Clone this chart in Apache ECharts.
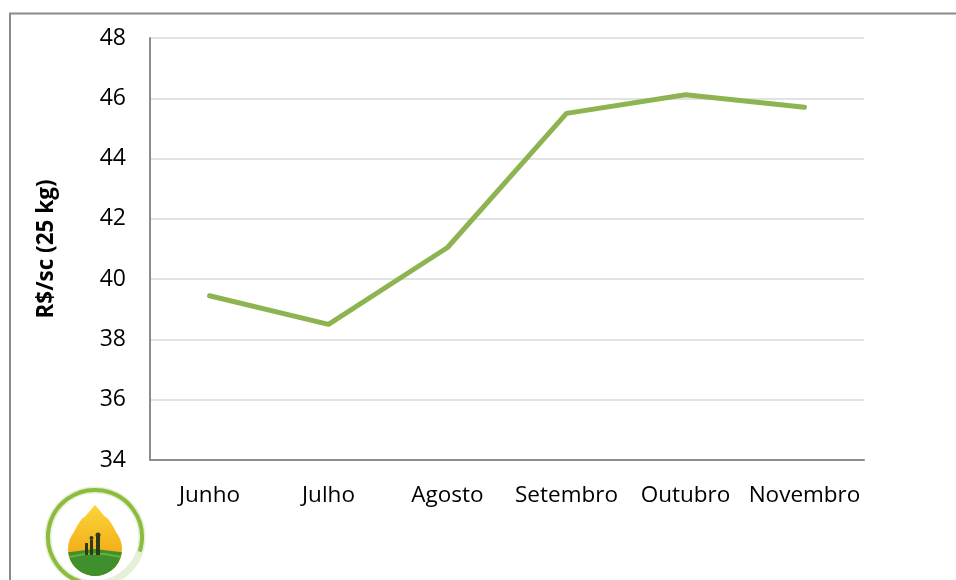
<!DOCTYPE html>
<html><head><meta charset="utf-8">
<script src="https://cdn.jsdelivr.net/npm/echarts@6/dist/echarts.min.js"></script>
<style>html,body{margin:0;padding:0;background:#fff}#c{width:956px;height:580px}</style>
</head><body><div id="c"></div>
<script>
const categories = ['Junho','Julho','Agosto','Setembro','Outubro','Novembro'];
const prices = [39.45, 38.5, 41.05, 45.5, 46.12, 45.7];
const yAxisName = 'R$/sc (25 kg)';
const font = 'Open Sans';
const chart = echarts.init(document.getElementById('c'), null, {renderer:'canvas'});
// decorative logo teardrop outline (local coords)
const drop = [];
(function(){
  const cx = 50, cy = 58, r = 27, tipY = 14;
  const d = cy - tipY;
  const alpha = Math.asin(r / d);           // half-angle at tip
  const tang = Math.PI / 2 - alpha;         // angle of tangent point from vertical-down
  // right side: tip to tangent point with slight concave curve
  const tx = cx + r * Math.cos(alpha), ty = cy - r * Math.sin(alpha);
  for (let i = 0; i <= 10; i++) {
    const t = i / 10;
    const bx = cx + (tx - cx) * t, by = tipY + (ty - tipY) * t;
    const bulge = -3 * Math.sin(Math.PI * t) * 0;
    drop.push([bx + 4 * Math.sin(Math.PI * t) * (t < 0.5 ? 0.2 : 0.6), by]);
  }
  const a0 = -Math.PI / 2 + (Math.PI / 2 - alpha);
  for (let i = 0; i <= 30; i++) {
    const a = -alpha + (Math.PI + 2 * alpha) * i / 30;
    drop.push([cx + r * Math.cos(a), cy + r * Math.sin(a)]);
  }
  for (let i = 10; i >= 0; i--) {
    const t = i / 10;
    const bx = cx - (tx - cx) * t, by = tipY + (ty - tipY) * t;
    drop.push([bx - 4 * Math.sin(Math.PI * t) * (t < 0.5 ? 0.2 : 0.6), by]);
  }
})();
chart.setOption({
  animation:false,
  backgroundColor:'#fff',
  grid:{left:150, right:92, top:38, bottom:120, containLabel:false},
  xAxis:{type:'category', data:categories, boundaryGap:true,
    axisLine:{lineStyle:{color:'#8c8c8c', width:2}}, axisTick:{show:false},
    axisLabel:{color:'#000', fontFamily:font, fontSize:22.5, margin:24, interval:0}},
  yAxis:{type:'value', min:34, max:48, interval:2,
    name:yAxisName, nameLocation:'middle', nameGap:92, nameRotate:90,
    nameTextStyle:{color:'#000', fontFamily:font, fontSize:22.5, fontWeight:'bold'},
    axisLine:{show:true, lineStyle:{color:'#8c8c8c', width:2}}, axisTick:{show:false},
    splitLine:{lineStyle:{color:'#d9d9d9', width:1.5}},
    axisLabel:{color:'#000', fontFamily:font, fontSize:23, margin:24}},
  series:[{type:'line', data:prices, symbol:'none', smooth:false,
    lineStyle:{color:'#8db451', width:5, cap:'round', join:'round'}}],
  graphic:[
    {type:'rect', shape:{x:10, y:13.5, width:1000, height:1000}, style:{fill:'none', stroke:'#8a8a8a', lineWidth:2}},
    {type:'group', x:45, y:491, children:[
      {type:'circle', shape:{cx:50, cy:46, r:47}, style:{fill:'none', stroke:'#e6efd8', lineWidth:7}},
      {type:'arc', shape:{cx:50, cy:46, r:47, startAngle:Math.PI*0.55, endAngle:Math.PI*2.1}, style:{fill:'none', stroke:'#8dbb3c', lineWidth:4}},
      {type:'polygon', shape:{points:drop},
        style:{fill:new echarts.graphic.LinearGradient(0,0,0,1,[{offset:0,color:'#fbd53a'},{offset:0.6,color:'#f4b21c'},{offset:1,color:'#ee9a12'}])}},
      {type:'sector', shape:{cx:50, cy:58, r0:0, r:27, startAngle:0.12, endAngle:Math.PI-0.12}, style:{fill:'#3f8f2c'}},
      {type:'polyline', shape:{points:[[24,66],[40,63],[60,63],[76,66]]}, style:{stroke:'#6cae3a', lineWidth:2, fill:'none'}},
      {type:'rect', shape:{x:40, y:52, width:3, height:12}, style:{fill:'#2a3a1a'}},
      {type:'rect', shape:{x:45, y:49, width:3, height:15}, style:{fill:'#2a3a1a'}},
      {type:'rect', shape:{x:51, y:46, width:4, height:18}, style:{fill:'#2a3a1a'}},
      {type:'circle', shape:{cx:53, cy:44, r:2.5}, style:{fill:'#2a3a1a'}},
      {type:'circle', shape:{cx:46.5, cy:47, r:2}, style:{fill:'#2a3a1a'}}
    ]}
  ]
});
</script></body></html>
